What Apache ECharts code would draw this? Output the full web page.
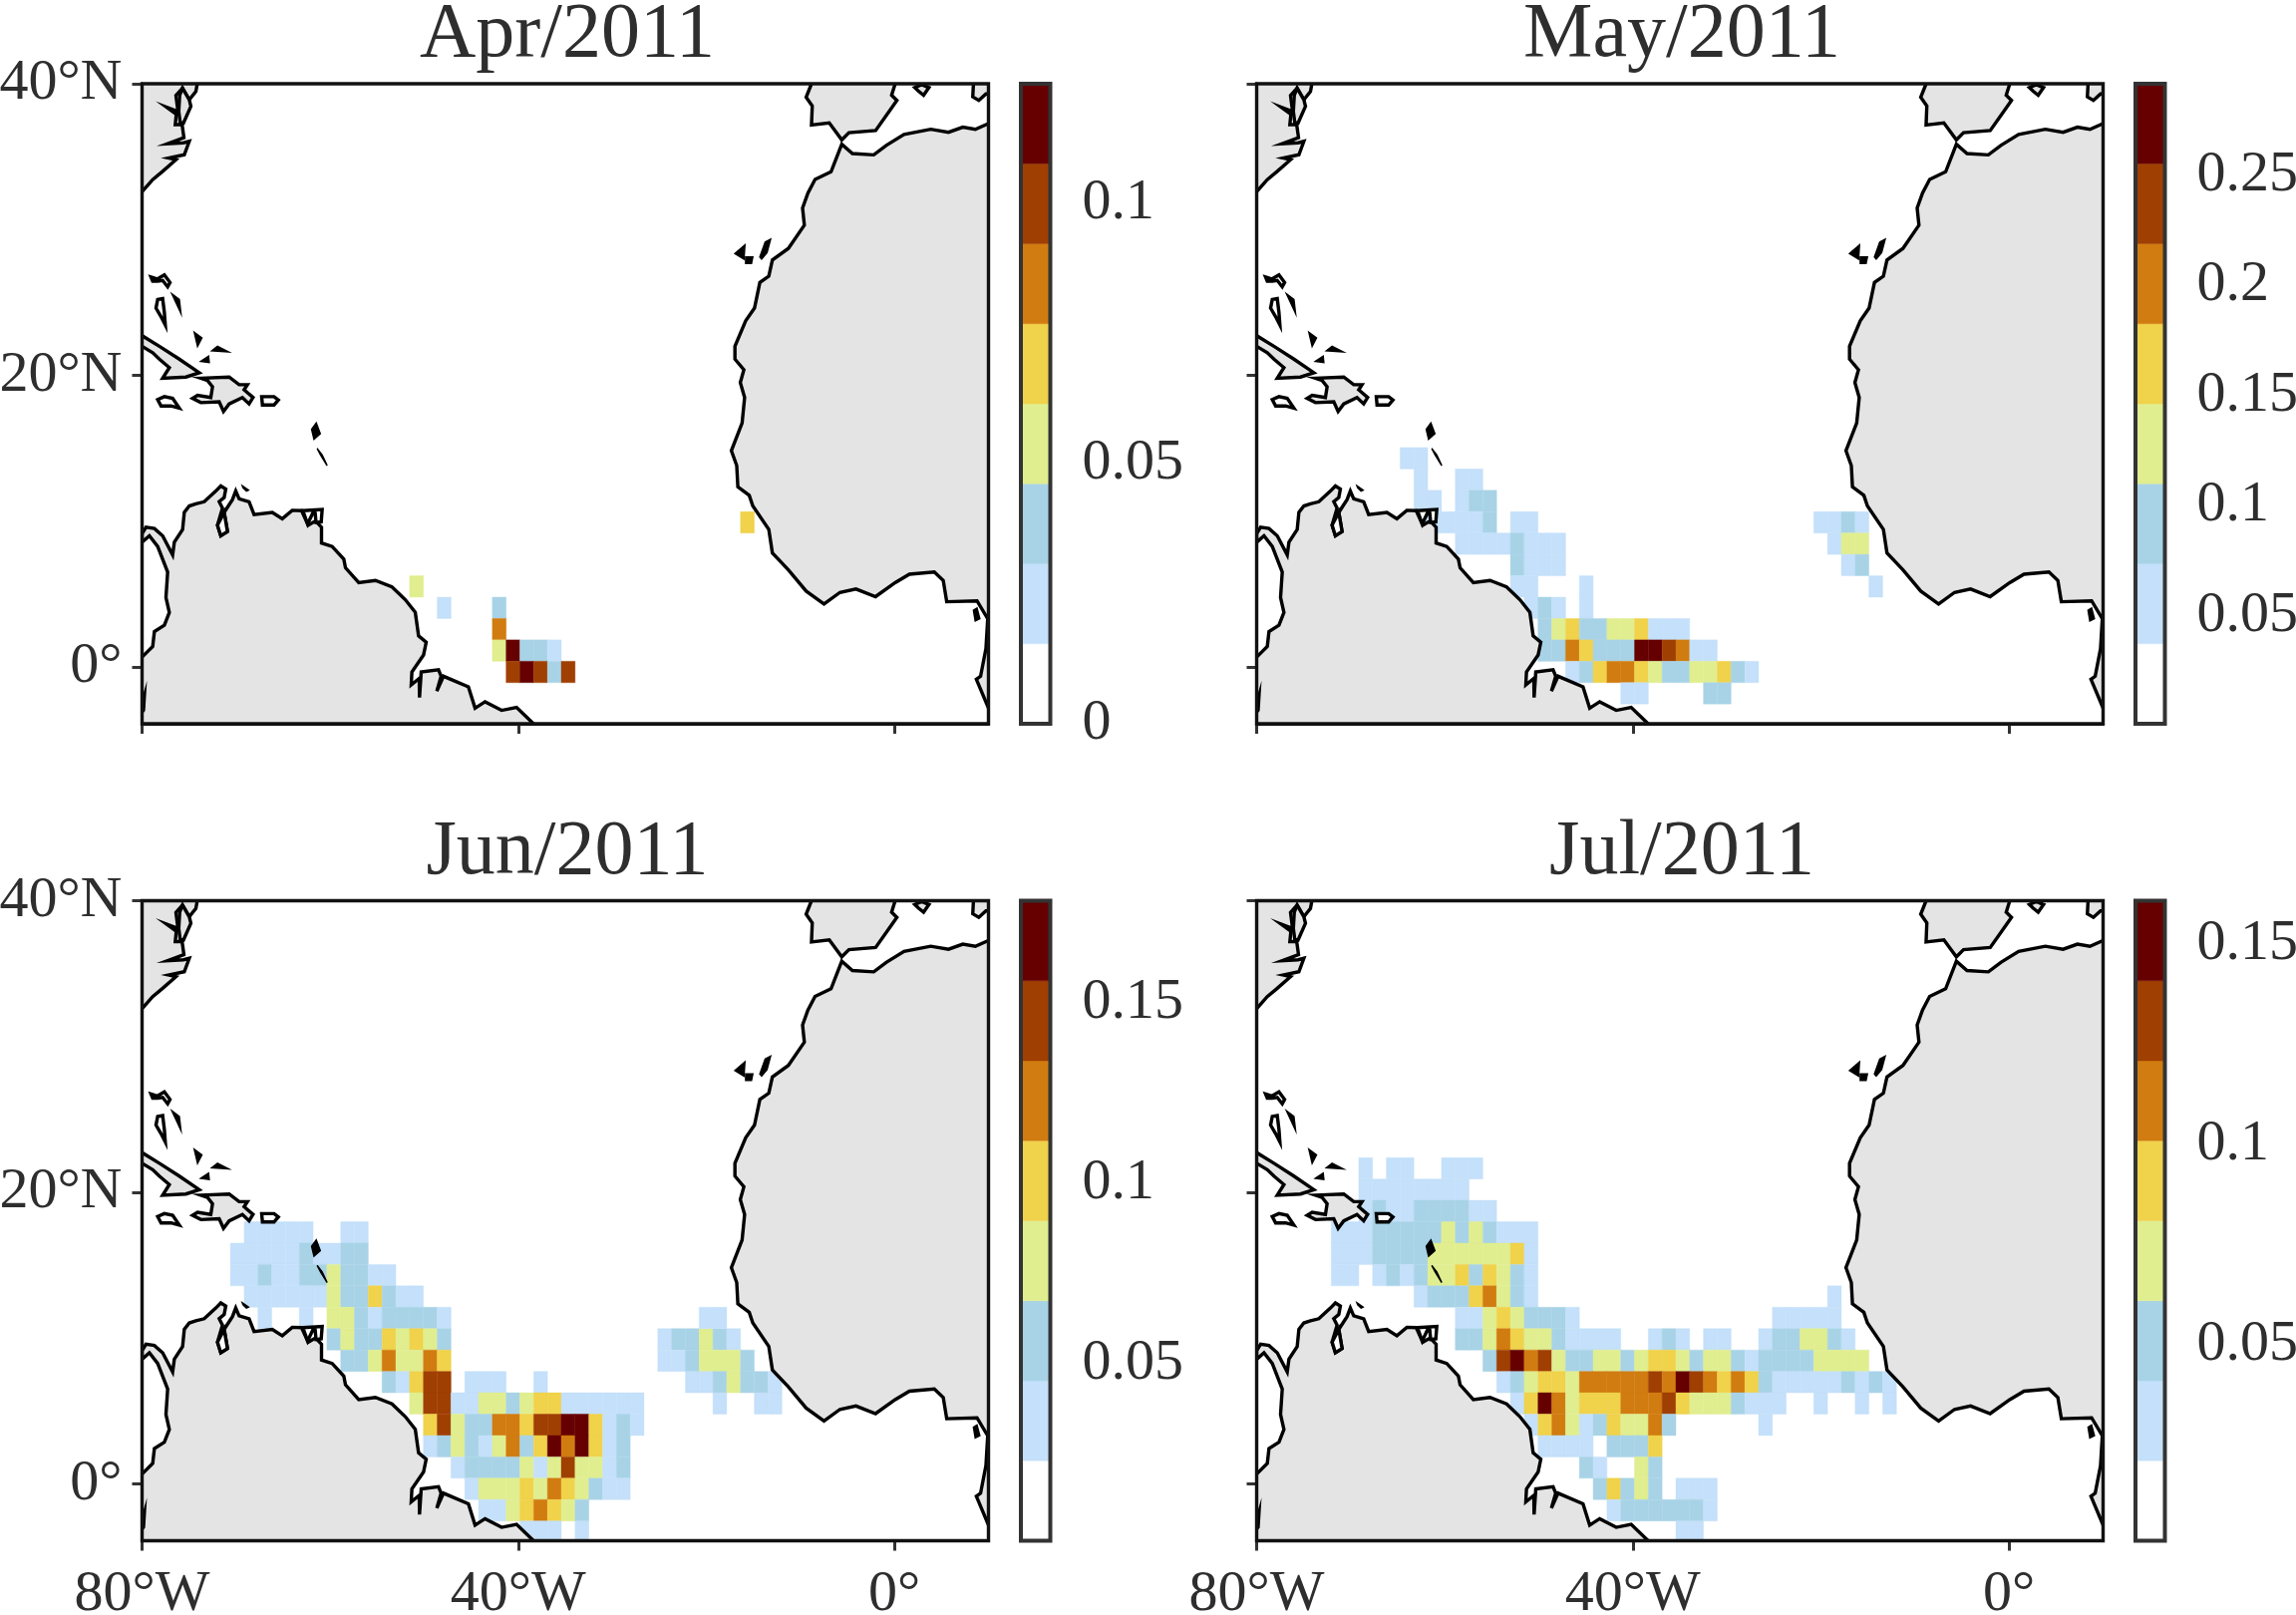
<!DOCTYPE html>
<html><head><meta charset="utf-8">
<style>html,body{margin:0;padding:0;background:#fff}#c{width:2303px;height:1620px}</style>
<script src="https://cdn.jsdelivr.net/npm/echarts@6/dist/echarts.min.js"></script>
</head><body><div id="c"></div>
<script>
// ---------- data ----------
const monthTitles = ['Apr/2011','May/2011','Jun/2011','Jul/2011'];
const lonTicks = [-80,-40,0], lonTickLabels = ['80°W','40°W','0°'];
const latTicks = [0,20,40],  latTickLabels = ['0°','20°N','40°N'];
const lonRange = [-80,10], latRange = [-3.9,40];
const cellSize = 1.466, gridLon0 = -80.87, gridLat0 = -1.08;
const levelColors = ['#ffffff','#c4e0fa','#a8d3e7','#e0ee8f','#f0d24b','#d17c10','#a03f02','#660000'];

const aprRange = [0,0.123],   aprTicks = [0,0.05,0.1],          aprLabels = ['0','0.05','0.1'];
const mayRange = [0.0008,0.2914], mayTicks = [0.05,0.1,0.15,0.2,0.25], mayLabels = ['0.05','0.1','0.15','0.2','0.25'];
const junRange = [0.001,0.1781], junTicks = [0.05,0.1,0.15],   junLabels = ['0.05','0.1','0.15'];
const julRange = [0.0012,0.1607], julTicks = [0.05,0.1,0.15],   julLabels = ['0.05','0.1','0.15'];

// rows: [row index, first column index, colour-bar class of each consecutive cell...]
const aprCells = [
 [4,20,3],[3,22,1],[3,26,2],[2,26,5],[1,26,3,7,2,2,1],[0,27,6,7,6,2,6],[7,44,4]
];
const mayCells = [
 [10,11,1,1],[9,12,1],[9,15,1,1],[8,12,1,1],[8,15,1,2,2],
 [7,12,1,1,1,1,1,2],[7,19,1,1],[6,15,1,1,1,1,2,1,1,1],[5,19,2,1,1,1],
 [4,19,1,1],[4,24,1],[3,20,1,2,1],[3,24,1],
 [2,21,2,3,4,2,2,3,3,4,1,1,1],[1,21,2,2,5,4,2,2,2,7,7,6,5,1,1],
 [0,23,1,2,4,5,5,4,3,2,2,3,3,4,2,1],[-1,27,1,1],[-1,33,2,2],
 [7,41,1,1,2,1],[6,42,1,3,3],[5,43,1,2],[4,45,1]
];
const junCells = [
 [12,8,1,1,1,1,1],[12,15,1,1],
 [11,7,1,1,1,1,1,2,1,1,2,2],
 [10,7,1,1,2,1,1,2,2,3,2,2,1,1],
 [9,8,1,1,1,1,1,1,3,2,2,4,2,1,1],
 [8,9,1],[8,12,1],[8,14,3,3,2,1,2,2,2,2,1],
 [7,14,2,3,2,2,4,3,4,3,2],[7,38,1,2,2,3,2,1],
 [6,15,2,2,3,5,3,3,5,4],[6,38,1,1,2,3,3,3,2],
 [5,18,2,1,4,6,6],[5,24,1,1,1],[5,29,1],[5,40,1,1,2,3,2,2,1],
 [4,20,3,6,6,1,1,3,3,2,3,4,4,1,1,1,1,1,1],[8,41,1,1],[4,42,1],[4,45,1,1],
 [3,21,4,6,3,2,2,5,5,4,6,6,7,7,4,1,2,1],
 [2,21,1,2,3,2,1,3,5,2,4,7,5,7,4,1,2],
 [1,23,1,2,2,2,2,3,1,3,6,3,3,1,2],
 [0,24,1,3,3,3,4,3,5,4,3,2,1,1],
 [-1,25,1,1,3,4,5,4,3,2],
 [-2,28,1,1,1],[-2,32,1]
];
const julCells = [
 [15,8,1],[15,10,1,1],[15,14,1,1,1],
 [14,8,1,1,1,1,1,1,1,1],
 [13,8,1,2,1,1,2,2,2,2,1,1],
 [12,6,1,1,1,2,2,2,2,2,3,2,3,2,1,1,1],
 [11,6,1,1,1,2,2,2,2,3,3,3,3,3,3,4,1],
 [10,6,1,1],[10,9,1,2,1,2,3,3,4,2,4,3,2,1],
 [9,12,1,2,2,2,4,5,3,2,1],[9,42,1],
 [8,15,1,1,3,4,3,2,2,2,1],[8,38,1,1,1,1,1],
 [7,15,2,2,3,5,4,3,3,2,1,1,1,1],[7,29,1,2,1],[7,33,1,1],[7,37,1,2,2,3,3,2,1],
 [6,17,2,6,7,5,6,3,2,2,3,3,2,3,4,4,3,2,3,3,2,1,2,2,2,2,3,3,3,3],
 [5,18,1,2,3,4,4,3,5,5,5,5,5,6,5,7,6,5,4,5,4,2,1,1,1,1,1,2,1,2,1],
 [4,19,1,4,7,5,3,4,4,4,5,5,5,6,4,3,3,3,2,1,1,1],[4,41,1],[4,44,1],[4,46,1],
 [3,20,1,4,5,3,1,2,4,3,3,5,2],[3,37,1],
 [2,21,1,1,1,1],[2,26,2,2,2,4],
 [1,24,2,1],[1,28,3,2],
 [0,25,2,4,2,3,2],[0,31,1,1,1],
 [-1,26,1,2,2,2,2,2,2,1],[-2,31,1,1]
];

// coastlines, lon/lat
const southAmerica = [[-80,.67],[-78.87,1.4],[-78.69,2.42],[-77.63,2.86],[-77.1,3.74],[-77.46,4.76],[-77.28,6.51],[-78.34,8.26],[-79.22,8.99],[-80,8.55],[-80,9.14],[-79.58,9.58],[-78.69,9.49],[-77.81,8.99],[-76.75,7.68],[-76.57,8.55],[-75.69,9.43],[-75.51,10.6],[-74.98,11.04],[-74.28,11.18],[-73.39,11.33],[-72.16,12.06],[-71.63,12.41],[-71.1,12.2],[-71.27,11.62],[-71.8,11.33],[-71.45,10.89],[-71.98,9.72],[-71.63,8.99],[-70.92,9.28],[-71.27,10.6],[-70.39,11.47],[-70.04,12.06],[-69.68,11.53],[-68.62,11.33],[-68.09,10.45],[-66.15,10.6],[-65.09,10.16],[-64.03,10.74],[-63.04,10.72],[-62.33,9.72],[-61.55,10.01],[-60.92,9.58],[-60.92,8.5],[-59.79,8.26],[-58.55,7.39],[-58.37,6.8],[-56.96,5.78],[-55.19,5.93],[-53.43,5.49],[-52.01,4.61],[-50.95,3.74],[-50.6,2.13],[-49.79,1.69],[-50.07,.82],[-51.31,-.35],[-51.38,-1.23],[-50.53,-.79],[-50.5,-2.1],[-50.32,-.35],[-48.48,-.2],[-48.2,-.64],[-48.66,-1.66],[-47.95,-.64],[-45.3,-1.37],[-44.59,-2.83],[-43.53,-2.39],[-41.77,-2.98],[-40.18,-2.77],[-38.41,-3.88],[-37.5,-4.58],[-37.5,-6],[-82,-6],[-82,.67]];
const africa = [[10.1,37.3],[8.6,36.87],[7.27,37.02],[5.75,36.67],[3.86,36.88],[1.02,36.53],[-.87,35.77],[-2.2,35.12],[-4.47,35.21],[-5.6,35.85],[-6.74,33.96],[-8.44,33.43],[-9.2,32.5],[-9.77,31.47],[-9.58,30.3],[-11.28,28.7],[-12.98,27.91],[-13.36,26.8],[-14.31,26.37],[-14.88,24.61],[-15.82,23.74],[-16.96,21.99],[-16.96,21.11],[-16.01,20.38],[-16.39,19.5],[-15.93,18.48],[-16.2,16.73],[-17.34,14.83],[-16.77,13.81],[-16.65,12.35],[-15.44,11.77],[-15.06,11.04],[-13.36,9.43],[-12.98,7.82],[-11.28,6.66],[-9.39,5.2],[-7.49,4.32],[-5.79,5.11],[-4.09,5.34],[-2.01,4.82],[.08,5.78],[1.59,6.36],[4.24,6.51],[5.19,5.93],[5.56,4.47],[8.78,4.53],[9.92,3.3],[9.73,1.26],[9.16,-.64],[8.71,-.85],[10.1,-2.98],[12,-3],[12,37.3]];
const iberia = [[-8.82,40],[-9.39,39.07],[-8.74,38.48],[-8.82,37.17],[-6.93,37.31],[-5.6,36.15],[-4.84,36.64],[-2,36.79],[-.3,38.34],[.26,38.86],[-.3,39.21],[.08,40],[.08,41],[-8.82,41]];
const sardinia = [[8.4,40],[8.33,39.1],[8.97,38.86],[9.73,39.3],[12,39.44],[12,41],[8.4,41]];
const balearic = [[2.16,39.74],[2.91,39.94],[3.67,39.74],[3.1,39.21],[2.54,39.5]];
const northAmerica = [[-74.13,40.5],[-74.13,40],[-74.28,39.47],[-74.98,38.9],[-75.7,39.7],[-76.4,39.2],[-76.18,38.1],[-77.41,38.4],[-76.36,37.9],[-76.47,37.2],[-75.75,37.2],[-75.69,36.96],[-75.55,36.3],[-77.28,35.89],[-75.6,35.95],[-74.98,36.05],[-75.51,35.13],[-77.17,34.9],[-76.4,34.79],[-77.81,33.99],[-78.87,33.42],[-80,32.6],[-82,32.6],[-82,40.5]];
const delmarva = [[-75.7,39.7],[-74.98,38.9],[-74.81,38.45],[-75.6,37.3],[-75.95,37.35],[-76.1,38.1],[-76,39.2]];
const cuba = [[-82,23],[-80,22.72],[-78.16,21.99],[-76.04,21.11],[-73.92,20.18],[-75.34,19.88],[-77.81,19.8],[-77.1,20.53],[-78.16,21.11],[-78.87,21.55],[-80,21.99],[-82,22]];
const hispaniola = [[-73.75,19.8],[-70.74,19.88],[-69.68,19.36],[-68.8,19.36],[-69.15,19.01],[-68.2,18.48],[-68.62,18.04],[-69.33,18.48],[-70.74,18.04],[-71.34,17.52],[-71.8,18.19],[-73.75,18.13],[-74.63,18.42],[-74.1,18.63],[-72.69,18.48],[-72.51,19.21],[-73.04,19.65]];
const trinidad = [[-62.9,10.72],[-60.85,10.8],[-60.95,9.95],[-61.5,9.9],[-61.6,10.6],[-61.85,10.55],[-62.4,9.8]];
const maracaibo = [[-71.98,9.72],[-71.63,8.99],[-70.92,9.28],[-71.27,10.6]];
const whiteIslands = [
 [[-78.34,18.34],[-77.63,18.54],[-76.75,18.42],[-76.04,17.75],[-76.92,17.9],[-77.98,17.9]],
 [[-67.28,18.54],[-65.97,18.54],[-65.51,18.31],[-65.97,17.96],[-67.2,17.96]],
 [[-79.05,26.74],[-78.4,26.6],[-77.63,26.89],[-77.03,26.37],[-77.28,26.07],[-77.81,26.51],[-78.34,26.45],[-78.87,26.45]],
 [[-78.34,25.2],[-77.81,25.26],[-77.63,24.32],[-77.53,23.45],[-77.99,24.03],[-78.52,24.61]]
];
const blackIslands = [
 [[-76.82,25.58],[-76.04,25.2],[-75.87,24.26]],
 [[-74.45,22.95],[-73.64,22.57],[-74.1,21.99]],
 [[-72.58,21.69],[-71.98,21.99],[-70.81,21.61]],
 [[-73.75,20.96],[-72.93,21.31],[-72.86,20.88]],
 [[-61.48,16.73],[-61.05,16],[-61.72,15.62],[-61.97,16.29]],
 [[-61.38,14.98],[-60.85,14.54],[-60.32,13.81],[-61.02,14.54]],
 [[-69.33,12.41],[-68.69,12.12],[-68.9,12.06],[-69.26,12.29]],
 [[-16.96,28.35],[-15.9,28.94],[-16,27.97]],
 [[-15.82,28.12],[-15.06,28.12],[-15.2,27.68],[-15.82,27.68]],
 [[-14.31,28.12],[-13.74,29.14],[-13.17,29.34],[-13.55,28.41],[-14.12,27.97]],
 [[8.4,3.88],[8.78,4.03],[9.08,3.3],[8.59,3.15]],
 [[-80,-2.3],[-79.6,-1.4],[-79.75,-3],[-80,-3.2]]
];

// ---------- layout ----------
const FONT = '"Liberation Serif"', INK = '#2e2e2e';
const colL = [142.5,1260.5], rowT = [84,903.5], mapW = 849, mapH = 642, barOff = 881.5, barW = 29.5;
const ranges = [aprRange,mayRange,junRange,julRange];
const ticks = [aprTicks,mayTicks,junTicks,julTicks];
const labels = [aprLabels,mayLabels,junLabels,julLabels];
const cells = [aprCells,mayCells,junCells,julCells];

const land = [
 {p:southAmerica,f:'#e4e4e4'},{p:africa,f:'#e4e4e4'},{p:iberia,f:'#e4e4e4'},{p:sardinia,f:'#e4e4e4'},
 {p:balearic,f:'#e4e4e4'},{p:northAmerica,f:'#e4e4e4'},{p:delmarva,f:'#e4e4e4'},{p:cuba,f:'#e4e4e4'},
 {p:hispaniola,f:'#e4e4e4'},{p:maracaibo,f:'#ffffff'},{p:trinidad,f:'#ffffff'},
 ...whiteIslands.map(p=>({p,f:'#ffffff'})),
 ...blackIslands.map(p=>({p,f:'#000000',w:1.5}))
];

const grid=[], xAxis=[], yAxis=[], series=[], title=[];
const hide = {show:false};
monthTitles.forEach((t,m)=>{
  const L = colL[m%2], T = rowT[m>>1], r = ranges[m];
  const nLev = levelColors.length, step = (r[1]-r[0])/nLev;
  const mi = grid.length, bi = mi+1;
  title.push({text:t,left:L+mapW/2-3,top:T-92,textAlign:'center',
    textStyle:{fontFamily:FONT,fontSize:78,fontWeight:'normal',color:INK}});
  grid.push({left:L,top:T,width:mapW,height:mapH,outerBoundsMode:'none'});
  grid.push({left:L+barOff,top:T,width:barW,height:mapH,outerBoundsMode:'none'});
  const showX = m>=2, showY = m%2===0;
  xAxis.push({gridIndex:mi,type:'value',min:lonRange[0],max:lonRange[1],splitLine:hide,
    axisLine:{show:true,onZero:false,lineStyle:{color:'#111',width:3}},
    axisTick:{show:true,length:10,customValues:lonTicks,lineStyle:{color:'#333',width:3}},
    axisLabel:{show:showX,customValues:lonTicks,margin:25,fontFamily:FONT,fontSize:58,color:INK,
      formatter:v=>lonTickLabels[lonTicks.indexOf(v)]||''}});
  yAxis.push({gridIndex:mi,type:'value',min:latRange[0],max:latRange[1],splitLine:hide,
    axisLine:{show:true,onZero:false,lineStyle:{color:'#111',width:3}},
    axisTick:{show:true,length:10,customValues:latTicks,lineStyle:{color:'#333',width:3}},
    axisLabel:{show:showY,customValues:latTicks,margin:20,fontFamily:FONT,fontSize:58,color:INK,
      formatter:v=>latTickLabels[latTicks.indexOf(v)]||''}});
  xAxis.push({gridIndex:bi,type:'value',min:0,max:1,show:false});
  yAxis.push({gridIndex:bi,type:'value',position:'right',min:r[0],max:r[1],splitLine:hide,
    axisLine:{show:false},
    axisTick:{show:true,length:7,customValues:ticks[m],lineStyle:{color:'#333',width:3}},
    axisLabel:{show:true,customValues:ticks[m],margin:32,fontFamily:FONT,fontSize:58,color:INK,
      formatter:v=>{const k=ticks[m].findIndex(q=>Math.abs(q-v)<1e-9);return k<0?'':labels[m][k];}}});

  // heat cells
  const heat=[];
  cells[m].forEach(row=>{
    const j=row[0], i0=row[1];
    row.slice(2).forEach((lev,k)=>{
      if(lev>0) heat.push([gridLon0+(i0+k)*cellSize, gridLat0+j*cellSize, r[0]+(lev+0.5)*step]);
    });
  });
  series.push({type:'custom',xAxisIndex:mi,yAxisIndex:mi,clip:true,z:2,silent:true,animation:false,data:heat,
    renderItem:(p,api)=>{
      const a=api.coord([api.value(0),api.value(1)]), b=api.coord([api.value(0)+cellSize,api.value(1)+cellSize]);
      const c=levelColors[Math.min(nLev-1,Math.floor((api.value(2)-r[0])/step))];
      return {type:'rect',shape:{x:a[0],y:b[1],width:b[0]-a[0],height:a[1]-b[1]},style:{fill:c,stroke:c,lineWidth:.4}};
    }});
  // land and coast
  series.push({type:'custom',xAxisIndex:mi,yAxisIndex:mi,clip:true,z:3,silent:true,animation:false,
    data:land.map((d,i)=>[i]),
    renderItem:(p,api)=>{
      const d=land[p.dataIndex];
      return {type:'polygon',shape:{points:d.p.map(q=>api.coord(q))},
        style:{fill:d.f,stroke:'#000',lineWidth:d.w||3.4,lineJoin:'miter'}};
    }});
  // frame
  series.push({type:'custom',xAxisIndex:mi,yAxisIndex:mi,clip:false,z:4,silent:true,animation:false,data:[[0]],
    renderItem:(p,api)=>{
      const a=api.coord([lonRange[0],latRange[0]]), b=api.coord([lonRange[1],latRange[1]]);
      return {type:'rect',shape:{x:a[0],y:b[1],width:b[0]-a[0],height:a[1]-b[1]},style:{fill:'none',stroke:'#111',lineWidth:3.4}};
    }});
  // colour bar
  const bins=levelColors.map((c,i)=>[r[0]+i*step,i]);
  series.push({type:'custom',xAxisIndex:bi,yAxisIndex:bi,clip:false,z:2,silent:true,animation:false,data:bins,
    renderItem:(p,api)=>{
      const lo=api.value(0), a=api.coord([0,lo]), b=api.coord([1,lo+step]);
      return {type:'rect',shape:{x:a[0],y:b[1],width:b[0]-a[0],height:a[1]-b[1]},style:{fill:levelColors[api.value(1)],stroke:levelColors[api.value(1)],lineWidth:.4}};
    },encode:{y:0}});
  series.push({type:'custom',xAxisIndex:bi,yAxisIndex:bi,clip:false,z:4,silent:true,animation:false,data:[[0]],
    renderItem:(p,api)=>{
      const a=api.coord([0,r[0]]), b=api.coord([1,r[1]]);
      return {type:'rect',shape:{x:a[0],y:b[1],width:b[0]-a[0],height:a[1]-b[1]},style:{fill:'none',stroke:'#333',lineWidth:4}};
    }});
});
const chart = echarts.init(document.getElementById('c'),null,{renderer:'canvas',width:2303,height:1620});
chart.setOption({backgroundColor:'#fff',animation:false,title,grid,xAxis,yAxis,series});
</script></body></html>
